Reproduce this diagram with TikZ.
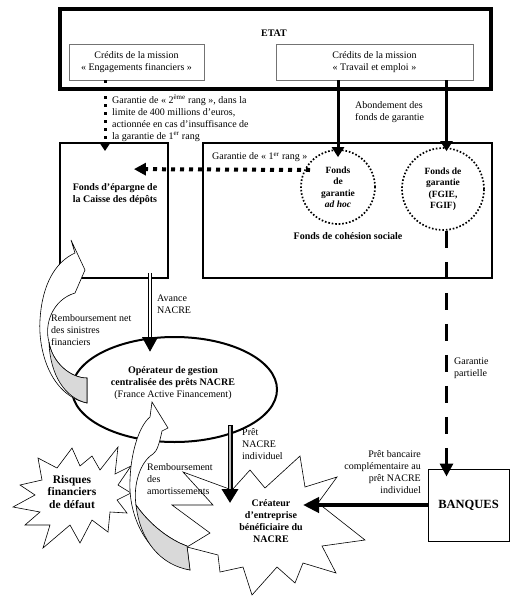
\documentclass[tikz,border=0pt]{standalone}
\usepackage{fontspec}
\setmainfont{Liberation Serif}
\usetikzlibrary{arrows.meta,calc,shapes.geometric}
\begin{document}
\begin{tikzpicture}[x=1pt,y=-1pt,
  txt/.style={font=\fontsize{10}{12}\selectfont, inner sep=0pt},
  ltxt/.style={txt, align=left, anchor=north west},
  rtxt/.style={txt, align=right, anchor=north east},
  btxt/.style={font=\fontsize{10}{12}\selectfont\bfseries, align=center, inner sep=0pt},
  fbox/.style={draw, line width=1.8pt, inner sep=0pt},
  cbox/.style={draw=black!55, line width=0.8pt, align=center, inner sep=0pt, font=\fontsize{10}{12}\selectfont},
  dcirc/.style={circle, draw, line width=1.7pt, dash pattern=on 1.6pt off 1.9pt, inner sep=0pt, align=center, font=\fontsize{9.5}{11.5}\selectfont\bfseries},
  burst/.style={draw, fill=white, line width=0.6pt, line join=miter},
  curv/.style={draw, fill=white, line width=0.6pt},
  curvg/.style={draw, fill=gray!30, line width=0.6pt},
  tharr/.style={line width=3pt, -{Triangle[length=10pt,width=12pt]}},
  bqarr/.style={line width=4pt, -{Triangle[length=16pt,width=15pt]}},
  dotarr/.style={line width=3pt, dash pattern=on 3pt off 5pt, -{Triangle[length=9pt,width=11pt]}},
  dotarrh/.style={line width=4pt, dash pattern=on 4pt off 5pt, -{Triangle[length=12pt,width=12pt]}},
  dasharr/.style={line width=3pt, dash pattern=on 17pt off 14pt, -{Triangle[length=13pt,width=13pt]}},
  dblarr/.style={line width=4pt, -{Triangle[length=15pt,width=15pt]}},
  dblin/.style={line width=1.6pt, white, shorten >=15pt, shorten <=0.5pt},
  gryarr/.style={line width=5pt, -{Triangle[length=14pt,width=16pt]}},
  gryin/.style={line width=2pt, gray!55, shorten >=14pt, shorten <=0.5pt},
]
\useasboundingbox (0,0) rectangle (516,600);

% ETAT
\node[draw, line width=4pt, minimum width=431, minimum height=80, inner sep=0pt] (etat) at (275.5,49) {};
\node[btxt] (etatlbl) at (274,33) {ETAT};
\node[cbox, minimum width=135, minimum height=36] (cef) at (136.5,62) {Crédits de la mission\\« Engagements financiers »};
\node[cbox, minimum width=197, minimum height=36] (cte) at (374.5,62) {Crédits de la mission\\« Travail et emploi »};

% Fonds boxes
\node[fbox, minimum width=108, minimum height=135] (fe) at (114,210.5) {};
\node[btxt] (fetxt) at (115,194) {Fonds d’épargne de\\la Caisse des dépôts};
\node[fbox, minimum width=289, minimum height=135] (fcs) at (347.5,210.5) {};
\node[dcirc, minimum size=74] (c1) at (338,187) {Fonds\\de\\garantie\\\textit{ad hoc}};
\node[dcirc, minimum size=82] (c2) at (443,189) {Fonds de\\garantie\\(FGIE,\\FGIF)};
\node[btxt] (fcstxt) at (348,236) {Fonds de cohésion sociale};

% Operateur ellipse
\node[ellipse, draw, line width=2pt, minimum width=205, minimum height=105, inner sep=0pt] (op) at (174.5,389.5) {};
\node[font=\fontsize{10}{12}\selectfont, align=center, inner sep=0pt] (optxt) at (173,383) {\textbf{Opérateur de gestion}\\\textbf{centralisée des prêts NACRE}\\(France Active Financement)};

% Banques
\node[draw, line width=1pt, minimum width=81, minimum height=72, inner sep=0pt, font=\fontsize{12.5}{14}\selectfont\bfseries] (bq) at (468.5,505) {BANQUES};

% Stars
\draw[burst] (38,458) -- (57,468) -- (72,448) -- (80,466) -- (92,456) -- (100,470) -- (118,447) -- (115,474) -- (131,466) -- (118,485) -- (131,493) -- (117,500) -- (127,513) -- (110,512) -- (108,532) -- (92,520) -- (80,543) -- (70,525) -- (43,548) -- (50,525) -- (25,525) -- (40,512) -- (13,507) -- (35,495) -- (20,485) -- (42,480) -- cycle;
\node[font=\fontsize{11.5}{12.5}\selectfont\bfseries, align=center, inner sep=0pt] (rq) at (72,492) {Risques\\financiers\\de défaut};

\draw[burst] (183,472) -- (232,490) -- (250,470) -- (265,488) -- (300,456) -- (305,487) -- (337,477) -- (318,503) -- (365,540) -- (322,546) -- (336,573) -- (303,563) -- (295,583) -- (277,567) -- (252,595) -- (243,567) -- (220,572) -- (218,555) -- (187,547) -- (210,533) -- (172,505) -- (213,505) -- cycle;
\node[btxt] (cr) at (271,521) {Créateur\\d’entreprise\\bénéficiaire du\\NACRE};

% Curved arrows
\draw[curv] (75,253) -- (71,240) -- (85,270) -- (75,293) .. controls (52,300) and (44,325) .. (49,342) .. controls (52,362) and (70,378) .. (87,378) -- (87,403) .. controls (50,395) and (38,350) .. (40,320) .. controls (42,285) and (55,262) .. (75,253) -- cycle;
\draw[curvg] (49,342) .. controls (52,362) and (70,378) .. (87,378) -- (87,403) .. controls (65,398) and (50,375) .. (49,342) -- cycle;

\draw[curv] (152,402) -- (168,428) -- (162,431) .. controls (159,445) and (157,451) .. (153,454) .. controls (140,462) and (133,485) .. (136,505) .. controls (150,525) and (170,540) .. (187,546) -- (190,570) .. controls (150,560) and (128,520) .. (130,480) .. controls (131,450) and (140,425) .. (150,417) -- cycle;
\draw[curvg] (136,505) .. controls (150,525) and (170,540) .. (187,546) -- (190,570) .. controls (160,565) and (140,540) .. (136,505) -- cycle;

% Connectors
\draw[dotarr] ([xshift=-31.5pt]cef.south) -- ([xshift=-9pt,yshift=-9pt]fe.north);
\draw[tharr] ([xshift=-36.5pt]cte.south) -- ([yshift=-8pt]c1.north);
\draw[tharr] ([xshift=72pt]cte.south) -- ([xshift=3.5pt,yshift=-4pt]c2.north);
\draw[dotarrh] ($(c1.center)+(-28,-17)$) -- ($(fe.north east)+(-35,27)$);
\draw[dasharr] ([xshift=3.5pt]c2.south) -- ([xshift=-22pt,yshift=-8pt]bq.north);
\draw[dblarr] ($(fe.south)+(36,-6)$) -- ($(op.center)+(-24.5,-37.5)$);
\draw[dblin] ($(fe.south)+(36,-6)$) -- ($(op.center)+(-24.5,-37.5)$);
\draw[gryarr] ($(op.center)+(55.5,35.5)$) -- ($(cr.center)+(-41,-18)$);
\draw[gryin] ($(op.center)+(55.5,35.5)$) -- ($(cr.center)+(-41,-18)$);
\draw[bqarr] (bq.west) -- ($(cr.center)+(32,-16)$);

% Labels
\node[ltxt] (l2r) at (112,94.5) {Garantie de « 2\textsuperscript{ème} rang », dans la\\limite de 400 millions d’euros,\\actionnée en cas d’insuffisance de\\la garantie de 1\textsuperscript{er} rang};
\node[ltxt] (lab) at (355,101) {Abondement des\\fonds de garantie};
\node[ltxt] (l1r) at (212,152.5) {Garantie de « 1\textsuperscript{er} rang »};
\node[ltxt] (lav) at (157,294.5) {Avance\\NACRE};
\node[ltxt] (lrs) at (51,314.5) {Remboursement net\\des sinistres\\financiers};
\node[ltxt] (lgp) at (454,357.5) {Garantie\\partielle};
\node[ltxt] (lpn) at (242,428.5) {Prêt\\NACRE\\individuel};
\node[ltxt] (lra) at (147,463.5) {Remboursement\\des\\amortissements};
\node[rtxt] (lpb) at (421,450.5) {Prêt bancaire\\complémentaire au\\prêt NACRE\\individuel};
\end{tikzpicture}
\end{document}
